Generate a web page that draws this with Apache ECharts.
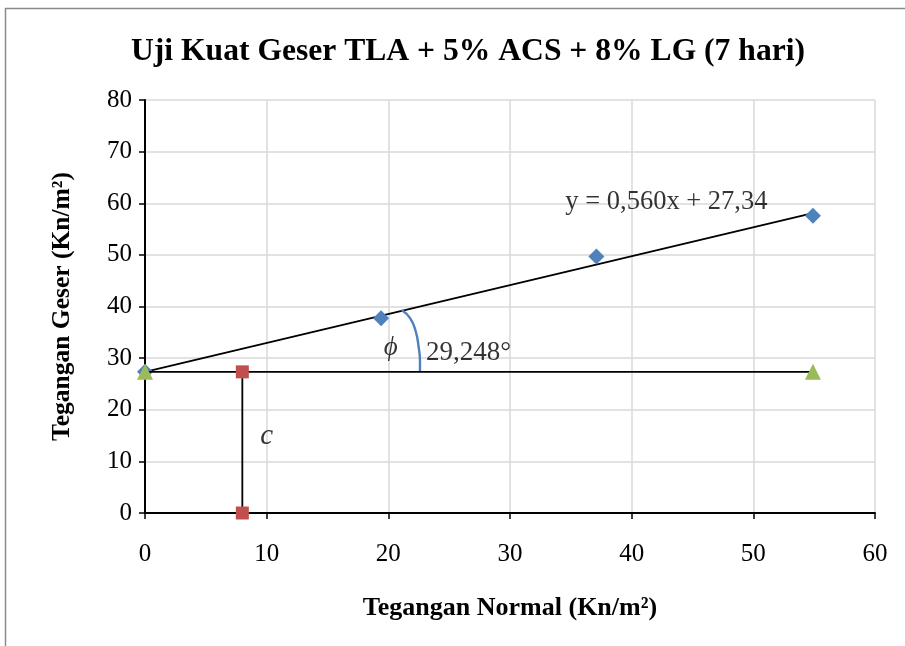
<!DOCTYPE html>
<html><head><meta charset="utf-8">
<script src="https://cdn.jsdelivr.net/npm/echarts@6/dist/echarts.min.js"></script>
<style>html,body{margin:0;padding:0;background:#fff}#c{width:905px;height:646px}</style>
</head><body><div id="c"></div>
<script>
var titleText = 'Uji Kuat Geser TLA + 5% ACS + 8% LG (7 hari)';
var xName = 'Tegangan Normal (Kn/m²)';
var yName = 'Tegangan Geser (Kn/m²)';
var dataPoints = [[0, 27.34], [19.4, 37.7], [37.1, 49.7], [54.9, 57.6]];
var trendLine = [[0, 27.34], [54.9, 58.08]];
var cohesionLine = [[0, 27.34], [54.9, 27.34]];
var cLine = [[8, 27.34], [8, 0]];
var arcPts = [[21.1, 39.3], [21.8, 37.7], [22.25, 35.2], [22.5, 32.0], [22.6, 29.5], [22.6, 27.34]];
var eqText = 'y = 0,560x + 27,34';
var angleText = '29,248°';

var F = 'Liberation Serif, Times New Roman, serif';
var chart = echarts.init(document.getElementById('c'));
chart.setOption({
  animation: false,
  backgroundColor: '#fff',
  title: {text: titleText, left: 126, top: 31, textStyle: {fontFamily: F, fontSize: 31.6, fontWeight: 'bold', color: '#000'}},
  grid: {left: 145, right: 30, top: 100, bottom: 133},
  graphic: [{type: 'rect', shape: {x: 5.5, y: 8.5, width: 1200, height: 1200}, style: {fill: 'none', stroke: '#8a8a8a', lineWidth: 1.5}, silent: true}],
  xAxis: {type: 'value', min: 0, max: 60, interval: 10,
    name: xName, nameLocation: 'middle', nameGap: 82,
    nameTextStyle: {fontFamily: F, fontSize: 26, fontWeight: 'bold', color: '#000'},
    axisLine: {show: true, lineStyle: {color: '#000', width: 2}},
    axisTick: {show: true, inside: false, length: 6, lineStyle: {color: '#000', width: 1.5}},
    axisLabel: {fontFamily: F, fontSize: 25, color: '#000', margin: 29},
    splitLine: {show: true, lineStyle: {color: '#d9d9d9', width: 1.5}}},
  yAxis: {type: 'value', min: 0, max: 80, interval: 10,
    name: yName, nameLocation: 'middle', nameGap: 70, nameRotate: 90,
    nameTextStyle: {fontFamily: F, fontSize: 25.5, fontWeight: 'bold', color: '#000'},
    axisLine: {show: true, lineStyle: {color: '#000', width: 2}},
    axisTick: {show: true, inside: false, length: 6, lineStyle: {color: '#000', width: 1.5}},
    axisLabel: {fontFamily: F, fontSize: 25, color: '#000', margin: 13},
    splitLine: {show: true, lineStyle: {color: '#d9d9d9', width: 1.5}}},
  series: [
    {type: 'line', data: trendLine, symbol: 'none', lineStyle: {color: '#000', width: 1.8}, z: 3},
    {type: 'line', data: cohesionLine, symbol: 'triangle', symbolSize: 16, itemStyle: {color: '#9BBB59'}, lineStyle: {color: '#000', width: 1.8}, z: 5},
    {type: 'line', data: cLine, symbol: 'rect', symbolSize: 13, itemStyle: {color: '#C0504D'}, lineStyle: {color: '#000', width: 1.8}, z: 5},
    {type: 'line', data: arcPts, symbol: 'none', smooth: true, lineStyle: {color: '#4F81BD', width: 2.4}, z: 3},
    {type: 'scatter', data: dataPoints, symbol: 'diamond', symbolSize: [16, 16], itemStyle: {color: '#4F81BD', opacity: 1}, z: 4},
    {type: 'scatter', data: [[34.55, 60.3]], symbolSize: 0, silent: true,
      label: {show: true, position: 'right', distance: 0, formatter: eqText, fontFamily: F, fontSize: 26.5, color: '#000'}},
    {type: 'scatter', data: [[20.2, 32.0]], symbolSize: 0, silent: true,
      label: {show: true, position: 'inside', formatter: 'ϕ', fontFamily: F, fontSize: 27, fontStyle: 'italic', color: '#000'}},
    {type: 'scatter', data: [[23.1, 31.1]], symbolSize: 0, silent: true,
      label: {show: true, position: 'right', distance: 0, formatter: angleText, fontFamily: F, fontSize: 27, color: '#000'}},
    {type: 'scatter', data: [[10.0, 14.8]], symbolSize: 0, silent: true,
      label: {show: true, position: 'inside', formatter: 'c', fontFamily: F, fontSize: 29, fontStyle: 'italic', color: '#000'}}
  ]
});
</script></body></html>
